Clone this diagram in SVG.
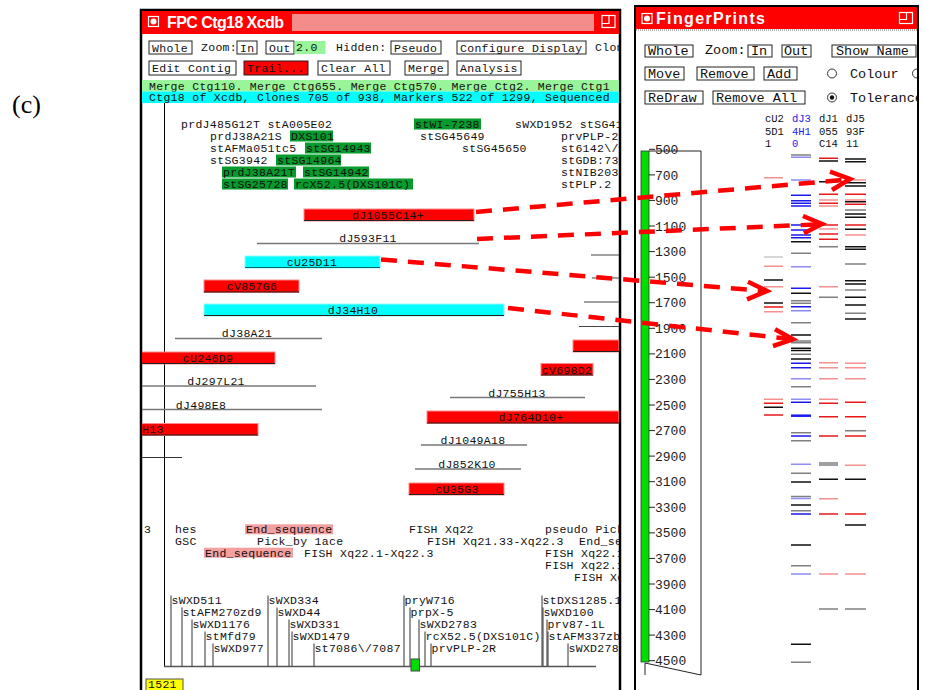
<svg xmlns="http://www.w3.org/2000/svg" width="925" height="690" viewBox="0 0 925 690">
<style>
.m{font-family:"Liberation Mono","DejaVu Sans Mono",monospace;font-size:11.5px;letter-spacing:0.3px;fill:#111}
.f{font-family:"Liberation Mono","DejaVu Sans Mono",monospace;font-size:13.5px;fill:#111}
.hd{font-family:"Liberation Mono","DejaVu Sans Mono",monospace;font-size:10.5px;fill:#111}
.tk{font-family:"Liberation Mono","DejaVu Sans Mono",monospace;font-size:13px;fill:#222}
.ttl{font-family:"Liberation Sans",Arial,sans-serif;font-size:16px;font-weight:bold;fill:#fff}
.btn{fill:#fff;stroke:#222;stroke-width:1}
.ln{stroke:#777;stroke-width:1.5;fill:none}
.tl{stroke:#444;stroke-width:1;fill:none}
.br{fill:#ff0000;stroke:#ff8a8a;stroke-width:1}
.bc{fill:#00ffff;stroke:#90ffff;stroke-width:1}
.bb{stroke:#222;stroke-width:1}
.gh{fill:#079a2c}
.ph{fill:#f5a0a0}
.c{text-anchor:middle}
.arr{stroke:#ff0000;stroke-width:4.5;fill:none;stroke-dasharray:16 11}
.ah{stroke:#ff0000;stroke-width:4.5;fill:none;stroke-linejoin:miter}
.r{stroke:#e81818;stroke-width:1.5;fill:none}
.p{stroke:#f59090;stroke-width:1.5;fill:none}
.k{stroke:#111;stroke-width:1.5;fill:none}
.g{stroke:#808080;stroke-width:1.5;fill:none}
.b{stroke:#1a1aee;stroke-width:1.5;fill:none}
.lb{stroke:#8c8cf2;stroke-width:1.5;fill:none}
.lg{stroke:#c8c8c8;stroke-width:1.5;fill:none}
.mk{stroke:#333;stroke-width:1;fill:none}
</style>
<defs>
<clipPath id="cf"><rect x="142" y="11" width="477" height="680"/></clipPath>
<clipPath id="cp"><rect x="636" y="7" width="281" height="684"/></clipPath>
</defs>
<rect width="925" height="690" fill="#fff"/>
<text x="12" y="113" style="font-family:'Liberation Serif','Times New Roman',serif;font-size:26px;fill:#000">(c)</text>

<!-- FPC window -->
<g id="fpc-window">
<rect x="141" y="10" width="479" height="690" fill="#fff" stroke="#000" stroke-width="2.5"/>
<g clip-path="url(#cf)">
<rect x="142" y="11" width="477" height="23" fill="#ff0000"/>
<rect x="292" y="14" width="302" height="17" fill="#f58c8c"/>
<rect x="148.5" y="16.5" width="10" height="10" fill="none" stroke="#fff" stroke-width="1.2"/>
<circle cx="153.5" cy="21.5" r="3" fill="#fff"/>
<rect x="602" y="15.5" width="13" height="12" fill="none" stroke="#fff" stroke-width="1.2"/>
<path d="M602 23.5 h7 v-8" fill="none" stroke="#fff" stroke-width="1.2"/>
<text x="167" y="27.5" class="ttl" textLength="117">FPC Ctg18 Xcdb</text>

<g id="fpc-toolbar">
<rect x="149" y="41" width="43" height="13" class="btn"/><text x="152" y="51.5" class="m">Whole</text>
<text x="201" y="50.5" class="m">Zoom:</text>
<rect x="237" y="41" width="20" height="13" class="btn"/><text x="240" y="51.5" class="m">In</text>
<rect x="266" y="41" width="28" height="13" class="btn"/><text x="269" y="51.5" class="m">Out</text>
<rect x="294.5" y="41" width="31" height="13" fill="#99f599"/><text x="296" y="51" class="m">2.0</text>
<text x="336" y="50.5" class="m">Hidden:</text>
<rect x="391" y="41" width="50" height="13" class="btn"/><text x="394" y="51.5" class="m">Pseudo</text>
<rect x="457" y="41" width="129" height="13" class="btn"/><text x="460" y="51.5" class="m">Configure Display</text>
<text x="595" y="51" class="m">Clones</text>
<rect x="149" y="61" width="87" height="14" class="btn"/><text x="152" y="72" class="m">Edit Contig</text>
<rect x="244" y="61" width="64" height="14" fill="#ff0000" stroke="#222"/><text x="247" y="72" class="m">Trail...</text>
<rect x="318" y="61" width="72" height="14" class="btn"/><text x="321" y="72" class="m">Clear All</text>
<rect x="405" y="61" width="43" height="14" class="btn"/><text x="408" y="72" class="m">Merge</text>
<rect x="457" y="61" width="64" height="14" class="btn"/><text x="460" y="72" class="m">Analysis</text>
<rect x="142" y="80" width="477" height="11.5" fill="#99f599"/>
<text x="149" y="89.5" class="m">Merge Ctg110. Merge Ctg655. Merge Ctg570. Merge Ctg2. Merge Ctg1</text>
<rect x="142" y="91.5" width="477" height="11.5" fill="#00ffff"/>
<text x="149" y="101" class="m">Ctg18 of Xcdb, Clones 705 of 938, Markers 522 of 1299, Sequenced</text>
</g>

<path d="M164.5 103 V666" stroke="#000" stroke-width="1"/>

<g id="top-markers">
<rect x="414" y="118.5" width="67" height="11" class="gh"/>
<rect x="290" y="130.5" width="43" height="11" class="gh"/>
<rect x="305" y="142.5" width="66" height="11" class="gh"/>
<rect x="276" y="154.5" width="65" height="11" class="gh"/>
<rect x="222" y="166.5" width="74" height="11" class="gh"/>
<rect x="303" y="166.5" width="66" height="11" class="gh"/>
<rect x="222" y="178.5" width="66" height="11" class="gh"/>
<rect x="294" y="178.5" width="119" height="11" class="gh"/>
<text x="181" y="128" class="m">prdJ485G12T stA005E02</text>
<text x="415" y="128" class="m">stWI-7238</text>
<text x="515" y="128" class="m">sWXD1952 stSG41</text>
<text x="210" y="140" class="m">prdJ38A21S</text>
<text x="291" y="140" class="m">DXS101</text>
<text x="420" y="140" class="m">stSG45649</text>
<text x="561" y="140" class="m">prvPLP-2</text>
<text x="210" y="152" class="m">stAFMa051tc5</text>
<text x="306" y="152" class="m">stSG14943</text>
<text x="462" y="152" class="m">stSG45650</text>
<text x="561" y="152" class="m">st6142\/</text>
<text x="210" y="164" class="m">stSG3942</text>
<text x="277" y="164" class="m">stSG14964</text>
<text x="561" y="164" class="m">stGDB:73</text>
<text x="223" y="176" class="m">prdJ38A21T</text>
<text x="304" y="176" class="m">stSG14942</text>
<text x="561" y="176" class="m">stNIB203</text>
<text x="223" y="188" class="m">stSG25728</text>
<text x="295" y="188" class="m">rcX52.5(DXS101C)</text>
<text x="561" y="188" class="m">stPLP.2</text>
</g>

<g id="clones">
<g id="dJ1055C14"><rect x="304" y="209" width="170" height="12" class="br"/><path d="M304 220.5 H474" class="bb"/><text x="388" y="219" class="m c">dJ1055C14+</text></g>
<g id="dJ593F11"><path d="M257 243.5 H479" class="ln"/><text x="368" y="242" class="m c">dJ593F11</text></g>
<g id="cU25D11"><rect x="245" y="256" width="135" height="12" class="bc"/><path d="M245 267.5 H380" stroke="#066" stroke-width="1"/><text x="312" y="266" class="m c">cU25D11</text></g>
<g id="cV857G6"><rect x="204" y="280" width="95" height="12.5" class="br"/><path d="M204 292 H299" class="bb"/><text x="252" y="290" class="m c">cV857G6</text></g>
<g id="dJ34H10"><rect x="204" y="304" width="300" height="12" class="bc"/><path d="M204 315.5 H504" class="bb"/><text x="353" y="314" class="m c">dJ34H10</text></g>
<g id="dJ38A21"><path d="M175 338.5 H322" class="ln"/><text x="247" y="337" class="m c">dJ38A21</text></g>
<g id="cU246D9"><rect x="141" y="352" width="134" height="12" class="br"/><path d="M141 363.5 H275" class="bb"/><text x="208" y="362" class="m c">cU246D9</text></g>
<g id="clone-right-red"><rect x="573" y="340" width="46" height="12" class="br"/><path d="M573 351.5 H619" class="bb"/></g>
<g id="cV698D2"><rect x="541" y="363.5" width="52" height="12" class="br"/><path d="M541 375 H593" class="bb"/><text x="567" y="373.5" class="m c">cV698D2</text></g>
<g id="dJ297L21"><path d="M142 386 H316" class="ln"/><text x="216" y="385" class="m c">dJ297L21</text></g>
<g id="dJ755H13"><path d="M450 397.5 H585" class="ln"/><text x="517" y="396.5" class="m c">dJ755H13</text></g>
<g id="dJ498E8"><path d="M142 409.5 H322" class="ln"/><text x="201" y="408.5" class="m c">dJ498E8</text></g>
<g id="dJ764D10"><rect x="427" y="411" width="192" height="12.5" class="br"/><path d="M427 423 H619" class="bb"/><text x="531" y="421" class="m c">dJ764D10+</text></g>
<g id="H13"><rect x="141" y="423.5" width="117" height="12" class="br"/><path d="M141 435 H258" class="bb"/><text x="142" y="433" class="m">H13</text></g>
<g id="dJ1049A18"><path d="M421 445 H527" class="ln"/><text x="473" y="444" class="m c">dJ1049A18</text></g>
<path d="M142 457.5 H182" stroke="#333" stroke-width="1"/>
<g id="dJ852K10"><path d="M415 469 H521" class="ln"/><text x="467" y="468" class="m c">dJ852K10</text></g>
<g id="cU35G3"><rect x="409" y="483" width="95" height="12" class="br"/><path d="M409 494.5 H504" class="bb"/><text x="457" y="493" class="m c">cU35G3</text></g>
<path d="M591 255 H619 M592 278 H619 M584 302 H619 M579 326.5 H619" class="tl"/>
</g>

<g id="remarks">
<rect x="245" y="524.3" width="88" height="10" class="ph"/>
<rect x="204" y="547.7" width="89" height="10" class="ph"/>
<text x="144" y="533" class="m">3</text>
<text x="175" y="533" class="m">hes</text>
<text x="246" y="533" class="m">End_sequence</text>
<text x="409" y="533" class="m">FISH Xq22</text>
<text x="545" y="533" class="m">pseudo Pick</text>
<text x="175" y="545" class="m">GSC</text>
<text x="257" y="545" class="m">Pick_by 1ace</text>
<text x="427" y="545" class="m">FISH Xq21.33-Xq22.3</text>
<text x="579" y="545" class="m">End_seq</text>
<text x="205" y="557" class="m">End_sequence</text>
<text x="304" y="557" class="m">FISH Xq22.1-Xq22.3</text>
<text x="545" y="557" class="m">FISH Xq22.1</text>
<text x="545" y="569" class="m">FISH Xq22.1</text>
<text x="574" y="581" class="m">FISH Xq</text>
</g>

<g id="bottom-markers">
<path d="M164 666.5 H596" stroke="#555" stroke-width="1.5"/>
<path d="M171 666 V595.5 M182 666 V607.5 M192 666 V619.5 M205 666 V631.5 M213 666 V643.5 M268 666 V595.5 M277 666 V607.5 M289 666 V619.5 M292 666 V631.5 M314 666 V643.5 M404 666 V595.5 M410 666 V607.5 M419 666 V619.5 M425 666 V631.5 M431 666 V643.5 M542 666 V595.5 M543 666 V607.5 M547 666 V619.5 M548 666 V631.5 M568 666 V643.5" class="mk"/>
<text x="171.5" y="603.5" class="m">sWXD511</text>
<text x="182.5" y="615.5" class="m">stAFM270zd9</text>
<text x="192.5" y="627.5" class="m">sWXD1176</text>
<text x="205.5" y="639.5" class="m">stMfd79</text>
<text x="213.5" y="651.5" class="m">sWXD977</text>
<text x="268.5" y="603.5" class="m">sWXD334</text>
<text x="277.5" y="615.5" class="m">sWXD44</text>
<text x="289.5" y="627.5" class="m">sWXD331</text>
<text x="292.5" y="639.5" class="m">sWXD1479</text>
<text x="314.5" y="651.5" class="m">st7086\/7087</text>
<text x="404.5" y="603.5" class="m">pryW716</text>
<text x="410.5" y="615.5" class="m">prpX-5</text>
<text x="419.5" y="627.5" class="m">sWXD2783</text>
<text x="425.5" y="639.5" class="m">rcX52.5(DXS101C)</text>
<text x="431.5" y="651.5" class="m">prvPLP-2R</text>
<text x="542.5" y="603.5" class="m">stDXS1285.1</text>
<text x="543.5" y="615.5" class="m">sWXD100</text>
<text x="547.5" y="627.5" class="m">prv87-1L</text>
<text x="548.5" y="639.5" class="m">stAFM337zb</text>
<text x="568.5" y="651.5" class="m">sWXD278</text>
<rect x="411" y="659" width="8.5" height="12" fill="#00dd00" stroke="#444" stroke-width="1"/>
<rect x="146" y="679" width="37" height="12" fill="#ffff00" stroke="#555" stroke-width="1"/>
<text x="148" y="687.5" class="m">1521</text>
</g>
</g>
</g>

<!-- FingerPrints window -->
<g id="fp-window">
<rect x="635" y="6" width="283" height="690" fill="#fff" stroke="#000" stroke-width="2"/>
<g clip-path="url(#cp)">
<rect x="636" y="7" width="281" height="22" fill="#ff0000"/>
<path d="M636 30 H917" stroke="#999" stroke-width="1.5" stroke-dasharray="1 1"/>
<rect x="642" y="13.5" width="10" height="10" fill="none" stroke="#fff" stroke-width="1.2"/>
<circle cx="647" cy="18.5" r="3" fill="#fff"/>
<rect x="899.5" y="12.5" width="13" height="11" fill="none" stroke="#fff" stroke-width="1.2"/>
<path d="M899.5 19.5 h7 v-7" fill="none" stroke="#fff" stroke-width="1.2"/>
<text x="656" y="24" class="ttl" textLength="109">FingerPrints</text>

<g id="fp-toolbar">
<rect x="645" y="45" width="48" height="12" class="btn"/><text x="648" y="55" class="f">Whole</text>
<text x="705" y="54" class="f">Zoom:</text>
<rect x="748" y="45" width="24" height="12" class="btn"/><text x="751" y="55" class="f">In</text>
<rect x="782" y="45" width="29" height="12" class="btn"/><text x="784" y="55" class="f">Out</text>
<rect x="832" y="45" width="84" height="12" class="btn"/><text x="836" y="55" class="f">Show Name</text>
<rect x="645" y="67" width="39" height="13" class="btn"/><text x="648" y="77.5" class="f">Move</text>
<rect x="697" y="67" width="57" height="13" class="btn"/><text x="700" y="77.5" class="f">Remove</text>
<rect x="764" y="67" width="33" height="13" class="btn"/><text x="767" y="77.5" class="f">Add</text>
<circle cx="832" cy="73.5" r="4.5" fill="none" stroke="#333"/>
<text x="850" y="77.5" class="f">Colour</text>
<circle cx="917" cy="73.5" r="4.5" fill="none" stroke="#333"/>
<rect x="645" y="91" width="58" height="13" class="btn"/><text x="648" y="101.5" class="f">ReDraw</text>
<rect x="713" y="91" width="92" height="13" class="btn"/><text x="716" y="101.5" class="f">Remove All</text>
<circle cx="832" cy="97.5" r="4.5" fill="none" stroke="#333"/>
<circle cx="832" cy="97.5" r="2.2" fill="#111"/>
<text x="850" y="101.5" class="f">Tolerance</text>
</g>

<g id="fp-ruler">
<rect x="641" y="151" width="8" height="511" fill="#00dd00" stroke="#333" stroke-width="0.8"/>
<path d="M649 151 H701 V675 L645 663 V675" fill="none" stroke="#222" stroke-width="1"/>
<path d="M649 149.3h6M649 174.9h6M649 200.4h6M649 226h6M649 251.6h6M649 277.2h6M649 302.7h6M649 328.3h6M649 353.9h6M649 379.4h6M649 405h6M649 430.6h6M649 456.1h6M649 481.7h6M649 507.3h6M649 532.9h6M649 558.4h6M649 584h6M649 609.6h6M649 635.1h6M649 660.7h6" stroke="#222" stroke-width="1"/>
<text x="655" y="154" class="tk">500</text>
<text x="655" y="179.5" class="tk">700</text>
<text x="655" y="205" class="tk">900</text>
<text x="655" y="230.5" class="tk">1100</text>
<text x="655" y="256" class="tk">1300</text>
<text x="655" y="281.7" class="tk">1500</text>
<text x="655" y="307.2" class="tk">1700</text>
<text x="655" y="332.8" class="tk">1900</text>
<text x="655" y="358.4" class="tk">2100</text>
<text x="655" y="383.9" class="tk">2300</text>
<text x="655" y="409.5" class="tk">2500</text>
<text x="655" y="435.1" class="tk">2700</text>
<text x="655" y="460.6" class="tk">2900</text>
<text x="655" y="486.2" class="tk">3100</text>
<text x="655" y="511.8" class="tk">3300</text>
<text x="655" y="537.4" class="tk">3500</text>
<text x="655" y="562.9" class="tk">3700</text>
<text x="655" y="588.5" class="tk">3900</text>
<text x="655" y="614.1" class="tk">4100</text>
<text x="655" y="639.6" class="tk">4300</text>
<text x="655" y="665.2" class="tk">4500</text>
</g>

<g id="fp-headers">
<text x="765" y="122" class="hd">cU2</text><text x="765" y="134.5" class="hd">5D1</text><text x="765" y="146.5" class="hd">1</text>
<text x="792" y="122" class="hd" style="fill:#2020ee">dJ3</text><text x="792" y="134.5" class="hd" style="fill:#2020ee">4H1</text><text x="792" y="146.5" class="hd" style="fill:#2020ee">0</text>
<text x="819" y="122" class="hd">dJ1</text><text x="819" y="134.5" class="hd">055</text><text x="819" y="146.5" class="hd">C14</text>
<text x="846" y="122" class="hd">dJ5</text><text x="846" y="134.5" class="hd">93F</text><text x="846" y="146.5" class="hd">11</text>
</g>

<g id="fp-bands">
<path class="r" d="M764 307h19M764 403.3h19M764 415h19M819 158.3h19M819 194.3h19M819 203.3h19M819 225h19M819 234h19M819 239.3h19M819 403.3h19M819 416.7h19M819 436h19M819 514h19M845 194.3h21M845 204.3h21M845 225h21M845 402.3h21M845 416.7h21M845 436h21M845 514h21"/>
<path class="p" d="M764 177.7h19M764 266.3h19M764 286.7h19M764 311.7h19M764 399.3h19M819 200h19M819 206h19M819 229h19M819 286.7h19M819 362.7h19M819 367.7h19M819 378.7h19M819 399.3h19M819 498.7h19M819 574h19M845 180h21M845 200h21M845 235h21M845 363.3h21M845 367.7h21M845 378.7h21M845 465.3h21M845 574h21"/>
<path class="k" d="M764 280h19M764 303h19M764 407.3h19M791 241.7h20M791 293.3h20M791 335h20M791 348.3h20M791 350.5h20M791 359h20M791 482h20M791 505h20M791 545h20M791 644.3h20M819 161h19M819 181.7h19M819 479.3h19M845 159h21M845 161.7h21M845 182.7h21M845 186h21M845 201.7h21M845 214h21M845 217.3h21M845 229.3h21M845 246.7h21M845 249.3h21M845 280.7h21M845 284h21M845 297.3h21M845 305h21M845 319h21M845 479.3h21M845 525h21"/>
<path class="g" d="M791 155h20M791 253.3h20M791 300.7h20M791 303.3h20M791 322.7h20M791 341h20M791 342.7h20M791 354.3h20M791 386.7h20M791 432.7h20M791 440.7h20M791 473.3h20M791 496.5h20M791 510.7h20M791 565.7h20M791 662.3h20M819 246.7h19M819 297.3h19M819 463h19M819 465h19M819 609h19M845 210h21M845 264h21M845 290h21M845 313.3h21M845 430.7h21M845 609h21"/>
<path class="b" d="M791 195.3h20M791 200.7h20M791 203.3h20M791 206h20M791 225h20M791 230h20M791 235h20M791 237.7h20M791 288.3h20M791 306.7h20M791 363.3h20M791 367.7h20M791 402.3h20M791 436h20M791 514h20"/>
<path d="M791 415.7h20" stroke="#1a1aee" stroke-width="2.5"/>
<path class="lb" d="M791 157.3h20M791 180h20M791 266.7h20M791 310.7h20M791 378.7h20M791 399.3h20M791 464.3h20M791 498.5h20M791 574h20"/>
<path class="lg" d="M764 257h19"/>
</g>
</g>
</g>

<g id="connectors">
<path class="arr" d="M476 212 L848 179.5"/>
<path class="ah" d="M830 171.7 L850 179 L832 190"/>
<path class="arr" d="M477 239 L820 224.3"/>
<path class="ah" d="M803 216 L822 224 L804 233.3"/>
<path class="arr" d="M381 259.5 L765 291"/>
<path class="ah" d="M748 281.7 L767 291 L747 299.3"/>
<path class="arr" d="M508 308 L791 339"/>
<path class="ah" d="M775 329.3 L793 339.3 L773 346"/>
</g>
</svg>
